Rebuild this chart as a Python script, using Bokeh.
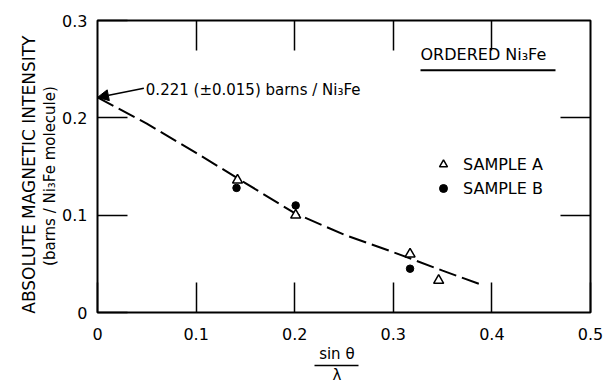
from bokeh.embed import file_html
from bokeh.models import (Arrow, CustomJSTickFormatter, FixedTicker, Label,
                          LinearAxis, NormalHead, Range1d)
from bokeh.plotting import figure
from bokeh.resources import INLINE

# Measured magnetic scattering intensity of ordered Ni3Fe
sample_a_x = [0.142, 0.201, 0.317, 0.346]
sample_a_y = [0.136, 0.100, 0.060, 0.033]

sample_b_x = [0.141, 0.201, 0.317]
sample_b_y = [0.128, 0.110, 0.045]

# Smooth form-factor curve drawn through the points
curve_x = [0.0, 0.05, 0.10, 0.15, 0.20, 0.25, 0.30, 0.35, 0.388]
curve_y = [0.221, 0.194, 0.164, 0.133, 0.102, 0.080, 0.062, 0.043, 0.029]

x_ticks = [0.0, 0.1, 0.2, 0.3, 0.4, 0.5]
x_tick_labels = ["0", "0.1", "0.2", "0.3", "0.4", "0.5"]
y_ticks = [0.0, 0.1, 0.2, 0.3]
y_tick_labels = ["0", "0.1", "0.2", "0.3"]

extrapolated_value = 0.221

FONT = "DejaVu Sans"
NBSP = "\u00a0"

p = figure(
    width=605, height=386,
    x_range=Range1d(0, 0.5), y_range=Range1d(0, 0.3),
    output_backend="svg", toolbar_location=None,
    min_border_left=97, min_border_right=15,
    min_border_top=20, min_border_bottom=73,
    background_fill_color="white", border_fill_color="white",
)
p.grid.visible = False
p.outline_line_color = "black"
p.outline_line_width = 2


def style_axis(axis, ticks, labels=None, standoff=10):
    axis.ticker = FixedTicker(ticks=ticks)
    axis.minor_tick_line_color = None
    axis.axis_line_color = None
    axis.major_tick_in = 30
    axis.major_tick_out = 0
    axis.major_tick_line_color = "black"
    axis.major_tick_line_width = 1.5
    axis.major_label_text_font = FONT
    axis.major_label_text_font_size = "16px"
    axis.major_label_text_color = "black"
    axis.major_label_standoff = standoff
    axis.axis_label_text_font = FONT
    axis.axis_label_text_font_style = "normal"
    axis.axis_label_text_color = "black"
    if labels is not None:
        axis.major_label_overrides = dict(zip(ticks, labels))
    else:
        axis.formatter = CustomJSTickFormatter(code="return ''")


def bare_axis(label, size, standoff):
    # axis carrying only a title line (no ticks, no tick labels)
    ax = LinearAxis(ticker=FixedTicker(ticks=[]))
    ax.minor_tick_line_color = None
    ax.major_tick_line_color = None
    ax.major_tick_in = 0
    ax.major_tick_out = 0
    ax.major_label_standoff = 0
    ax.axis_line_color = None
    ax.axis_label = label
    ax.axis_label_text_font = FONT
    ax.axis_label_text_font_size = size
    ax.axis_label_text_font_style = "normal"
    ax.axis_label_text_color = "black"
    ax.axis_label_standoff = standoff
    return ax


style_axis(p.xaxis[0], x_ticks, x_tick_labels, standoff=15)
style_axis(p.yaxis[0], y_ticks, y_tick_labels, standoff=10)

# Bottom title: sin θ over a fraction bar over λ (trailing spaces nudge it left)
p.xaxis[0].axis_label = "sin \u03b8" + NBSP * 3
p.xaxis[0].axis_label_text_font_size = "15px"
p.xaxis[0].axis_label_standoff = 2
lam_axis = bare_axis("\u03bb" + NBSP * 3, "15px", 0)
lam_axis.axis_line_color = "black"
lam_axis.axis_line_width = 1.5
lam_axis.bounds = (0.2201, 0.2647)
p.add_layout(lam_axis, "below")

# Left title in two lines (trailing spaces nudge it down)
p.yaxis[0].axis_label = "(barns / Ni\u2083Fe molecule)" + NBSP * 4
p.yaxis[0].axis_label_text_font_size = "15px"
p.yaxis[0].axis_label_standoff = 0
p.add_layout(bare_axis("ABSOLUTE MAGNETIC INTENSITY" + NBSP * 3, "17px", 0), "left")

top_axis = LinearAxis()
style_axis(top_axis, x_ticks[1:-1], None, standoff=0)
top_axis.major_label_text_font_size = "1px"
p.add_layout(top_axis, "above")

right_axis = LinearAxis()
style_axis(right_axis, y_ticks[1:-1], None, standoff=0)
right_axis.major_label_text_font_size = "1px"
p.add_layout(right_axis, "right")

# Dashed curve
p.line(curve_x, curve_y, line_color="black", line_width=2, line_dash="18 6")

# Data points
p.scatter(sample_a_x, sample_a_y, marker="triangle", size=10,
          fill_color="white", line_color="black", line_width=1.5,
          legend_label="SAMPLE A")
p.scatter(sample_b_x, sample_b_y, marker="circle", size=7.5,
          fill_color="black", line_color="black",
          legend_label="SAMPLE B")

lg = p.legend[0]
lg.location = (336, 114)
lg.margin = 0
lg.padding = 0
lg.spacing = 4
lg.glyph_width = 20
lg.glyph_height = 20
lg.label_standoff = 10
lg.label_text_font = FONT
lg.label_text_font_size = "16px"
lg.label_text_color = "black"
lg.border_line_color = None
lg.background_fill_alpha = 0

# Extrapolated intercept annotation
p.add_layout(Arrow(end=NormalHead(size=11, fill_color="black", line_color="black"),
                   x_start=0.047, y_start=0.2305, x_end=0.0, y_end=extrapolated_value,
                   line_color="black", line_width=1.5))
p.add_layout(Label(x=0.049, y=0.2283,
                   text=f"{extrapolated_value:.3f} (\u00b10.015) barns / Ni\u2083Fe",
                   text_font=FONT, text_font_size="15px", text_color="black",
                   text_align="left", text_baseline="middle"))

# Title inside the frame
p.add_layout(Label(x=0.3276, y=0.2652, text="ORDERED Ni\u2083Fe",
                   text_font=FONT, text_font_size="16px", text_color="black",
                   text_align="left", text_baseline="middle"))
p.add_layout(Arrow(end=None, x_start=0.3276, y_start=0.2488,
                   x_end=0.4645, y_end=0.2488,
                   line_color="black", line_width=2))

open("out.html", "w").write(file_html(p, INLINE))
